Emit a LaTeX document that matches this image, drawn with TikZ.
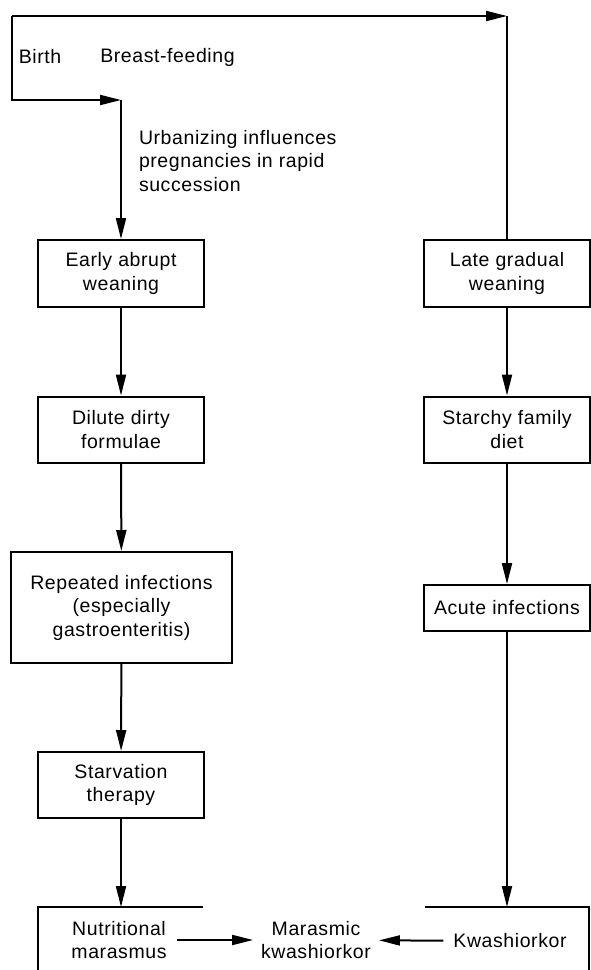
\documentclass[tikz,border=0pt]{standalone}
\usepackage{fontspec}
\setmainfont{Liberation Sans}[LetterSpace=3]
\usetikzlibrary{arrows.meta}

\begin{document}
\begin{tikzpicture}[x=1pt, y=-1pt, line width=2pt,
    font=\fontsize{19.5}{23.5}\selectfont,
    box/.style={draw, align=center, inner sep=0pt, minimum width=166pt},
    flow/.style={-{Triangle[length=21pt, width=10pt]}}]
    \useasboundingbox (0,0) rectangle (591,970);

    % Define nodes
    \node[inner sep=0pt] (birth) at (40,57) {Birth};
    \node[inner sep=0pt] (breast) at (167.5,57) {Breast-feeding};
    \node[inner sep=0pt, anchor=west, align=left] (urban) at (138,161)
        {Urbanizing influences\\pregnancies in rapid\\succession};

    \node[box, minimum height=67pt] (early) at (121,273.5) {Early abrupt\\weaning};
    \node[box, minimum height=66pt] (dilute) at (121,429.5) {Dilute dirty\\formulae};
    \node[box, minimum width=221pt, minimum height=111pt] (repeated) at (121.5,607.5)
        {Repeated infections\\(especially\\gastroenteritis)};
    \node[box, minimum height=66pt] (starv) at (121,785) {Starvation\\therapy};

    \node[box, minimum height=67pt] (late) at (507,273.5) {Late gradual\\weaning};
    \node[box, minimum height=66pt] (starchy) at (507,429.5) {Starchy family\\diet};
    \node[box, minimum height=46pt] (acute) at (507,608) {Acute infections};

    \node[align=center, inner sep=9pt] (nutr) at (119,940) {Nutritional\\marasmus};
    \node[align=center, inner xsep=7pt] (marasmic) at (316,940) {Marasmic\\kwashiorkor};
    \node[inner sep=9pt] (kwash) at (510,941) {Kwashiorkor};

    \coordinate (topleft) at (12,16);
    \coordinate (topright) at (507,16);
    \coordinate (stepleft) at (12,100);
    \coordinate (stepright) at (121,100);
    \coordinate (nutrtop) at (121,907);
    \coordinate (kwashtop) at (507,907);

    % Draw edges
    \draw[flow] (topleft) -- (topright);
    \draw (topright) -- (late);
    \draw[flow] (topleft) -- (stepleft) -- (stepright);
    \draw[flow] (stepright) -- (early);
    \draw[flow] (early) -- (dilute);
    \draw[flow] (dilute) -- (repeated);
    \draw[flow] (repeated) -- (starv);
    \draw[flow] (starv) -- (nutrtop);
    \draw[flow] (late) -- (starchy);
    \draw[flow] (starchy) -- (acute);
    \draw[flow] (acute) -- (kwashtop);
    \draw[flow] (nutr) -- (marasmic);
    \draw[flow] (kwash) -- (marasmic);

    % Bottom frame
    \draw (38,970) -- (38,907) -- (203,907);
    \draw (425,907) -- (589,907) -- (589,970);

\end{tikzpicture}
\end{document}
